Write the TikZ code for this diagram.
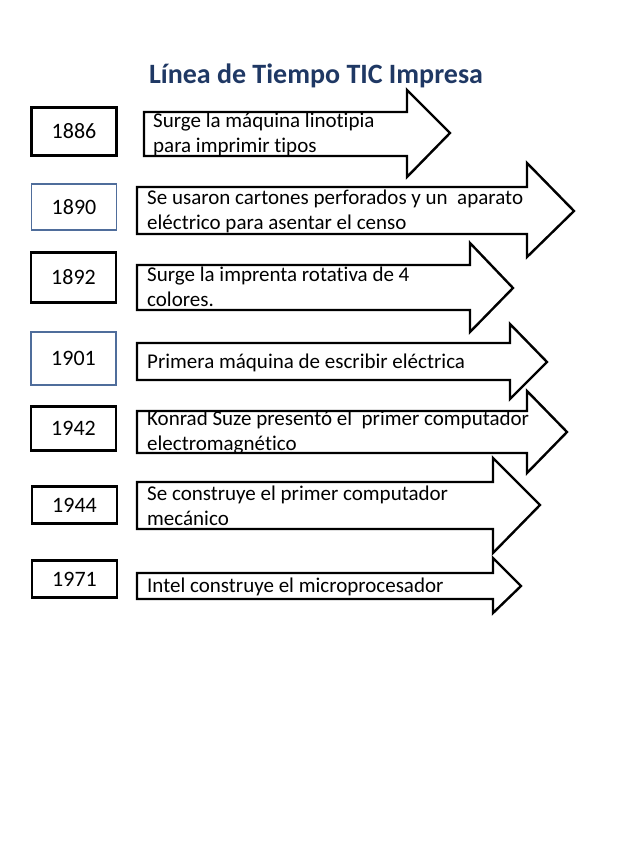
\documentclass[tikz,border=0pt]{standalone}
\usepackage{fontspec}
\setmainfont{Carlito}[Ligatures=NoCommon]
\definecolor{titulo}{RGB}{31,56,100}
\definecolor{borde}{RGB}{79,109,155}

\tikzset{
    anio/.style={rectangle,draw,line width=2.6pt,minimum width=85,inner sep=0,font=\fontsize{22}{26}\selectfont},
    anioazul/.style={anio,draw=borde,line width=1.8pt},
    flecha/.style={draw,fill=white,line width=2.4pt,line join=miter},
    texto/.style={anchor=base west,inner sep=0,align=left,font=\fontsize{21}{24.5}\selectfont}
    }

\begin{document}
\begin{tikzpicture}[x=1pt,y=-1pt]
                \useasboundingbox (0,0) rectangle (638,851);
                % Title
                \node(titulo)[anchor=base,text=titulo,font=\bfseries\fontsize{28}{33}\selectfont] at (316,83) {Línea de Tiempo TIC Impresa};
                % The Arrows
                \draw[flecha] (144,112) -- (407,112) -- (407,90) -- (450,133) -- (407,177) -- (407,156) -- (144,156) -- cycle;
                \draw[flecha] (137,187) -- (527,187) -- (527,163) -- (574,211) -- (527,257) -- (527,234) -- (137,234) -- cycle;
                \draw[flecha] (137,265) -- (470,265) -- (470,243) -- (513,288) -- (470,332) -- (470,310) -- (137,310) -- cycle;
                \draw[flecha] (137,343) -- (510,343) -- (510,324) -- (547,362) -- (510,399) -- (510,380) -- (137,380) -- cycle;
                \draw[flecha] (137,411) -- (527,411) -- (527,391) -- (567,432) -- (527,473) -- (527,453) -- (137,453) -- cycle;
                \draw[flecha] (137,482) -- (493,482) -- (493,458) -- (540,505) -- (493,553) -- (493,529) -- (137,529) -- cycle;
                \draw[flecha] (137,573) -- (493,573) -- (493,558) -- (521,586) -- (493,613) -- (493,599) -- (137,599) -- cycle;
                % The Years
                \node(a1886)[anio, minimum height=48.5] at (74,131.5) {1886};
                \node(a1890)[anioazul, minimum height=46] at (74,207) {1890};
                \node(a1892)[anio, minimum height=50.5] at (73.5,277.5) {1892};
                \node(a1901)[anioazul, minimum height=53] at (73.5,358.5) {1901};
                \node(a1942)[anio, minimum height=44.5] at (73.5,428.5) {1942};
                \node(a1944)[anio, minimum height=37.5] at (74.5,505) {1944};
                \node(a1971)[anio, minimum height=37.5] at (74.5,579) {1971};
                % The Events (base = last line)
                \node(t1886)[texto] at (153,152) {Surge la máquina linotipia\\para imprimir tipos};
                \node(t1890)[texto] at (147,229) {Se usaron cartones perforados y un~ aparato\\eléctrico para asentar el censo};
                \node(t1892)[texto] at (147,306) {Surge la imprenta rotativa de 4\\colores.};
                \node(t1901)[texto] at (147,368) {Primera máquina de escribir eléctrica};
                \node(t1942)[texto] at (147,450) {Konrad Suze presentó el~ primer computador\\electromagnético};
                \node(t1944)[texto] at (147,525) {Se construye el primer computador\\mecánico};
                \node(t1971)[texto] at (147,592) {Intel construye el microprocesador};
\end{tikzpicture}
\end{document}
